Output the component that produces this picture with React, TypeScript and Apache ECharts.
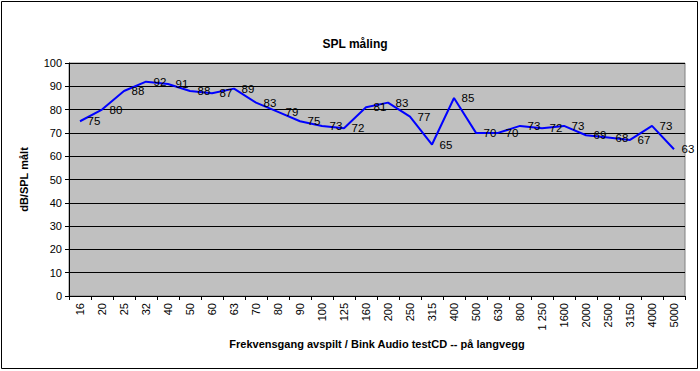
import React, { useEffect, useRef } from "react";
import * as echarts from "echarts";

const categories = ["16", "20", "25", "32", "40", "50", "60", "63", "70", "80", "90", "100", "125", "160", "200", "250", "315", "400", "500", "630", "800", "1 250", "1600", "2000", "2500", "3150", "4000", "5000"];
const splValues = [75, 80, 88, 92, 91, 88, 87, 89, 83, 79, 75, 73, 72, 81, 83, 77, 65, 85, 70, 70, 73, 72, 73, 69, 68, 67, 73, 63];
const chartTitle = "SPL måling";
const xTitle = "Frekvensgang avspilt / Bink Audio testCD -- på langvegg";
const yTitle = "dB/SPL målt";

const FONT = "'Liberation Sans', Arial, sans-serif";

export default function App() {
  const ref = useRef<HTMLDivElement>(null);
  useEffect(() => {
    if (!ref.current) return;
    const chart = echarts.init(ref.current, undefined, { renderer: "svg" });
    chart.setOption({
      animation: false,
      backgroundColor: "#ffffff",
      title: {
        text: chartTitle,
        left: 350,
        top: 33,
        textAlign: "center",
        textStyle: { fontFamily: FONT, fontSize: 12, fontWeight: "bold", color: "#000" },
      },
      graphic: [
        {
          type: "rect",
          shape: { x: 1.5, y: 1.5, width: 696, height: 367 },
          style: { fill: "none", stroke: "#000", lineWidth: 1 },
          silent: true,
        },
      ],
      grid: {
        left: 69,
        right: 15,
        top: 63,
        bottom: 75,
        show: true,
        backgroundColor: "#C0C0C0",
        borderColor: "#808080",
        borderWidth: 1,
      },
      xAxis: {
        type: "category",
        data: categories,
        boundaryGap: true,
        name: xTitle,
        nameLocation: "middle",
        nameGap: 42,
        nameTextStyle: { fontFamily: FONT, fontSize: 11, fontWeight: "bold", color: "#000" },
        axisLine: { lineStyle: { color: "#000", width: 1 } },
        axisTick: { show: true, length: 4, lineStyle: { color: "#000" }, interval: 0 },
        axisLabel: {
          rotate: 90,
          interval: 0,
          margin: 7,
          fontFamily: FONT,
          fontSize: 11,
          color: "#000",
        },
      },
      yAxis: {
        type: "value",
        min: 0,
        max: 100,
        interval: 10,
        name: yTitle,
        nameLocation: "middle",
        nameGap: 40,
        nameRotate: 90,
        nameTextStyle: { fontFamily: FONT, fontSize: 11, fontWeight: "bold", color: "#000" },
        axisLine: { show: true, lineStyle: { color: "#000", width: 1 } },
        axisTick: { show: true, length: 4, lineStyle: { color: "#000" } },
        axisLabel: { fontFamily: FONT, fontSize: 11, color: "#000", margin: 7 },
        splitLine: { show: true, lineStyle: { color: "#000", width: 1 } },
      },
      series: [
        {
          type: "line",
          data: splValues,
          showSymbol: true,
          symbol: "circle",
          symbolSize: 1,
          lineStyle: { color: "#0000FF", width: 2 },
          itemStyle: { color: "#0000FF", opacity: 0 },
          label: {
            show: true,
            position: "right",
            distance: 7,
            fontFamily: FONT,
            fontSize: 11.5,
            color: "#000",
            opacity: 1,
          },
        },
      ],
    });
    return () => chart.dispose();
  }, []);
  return (
    <div
      ref={ref}
      style={{ position: "fixed", left: 0, top: 0, width: 700, height: 371 }}
    />
  );
}
